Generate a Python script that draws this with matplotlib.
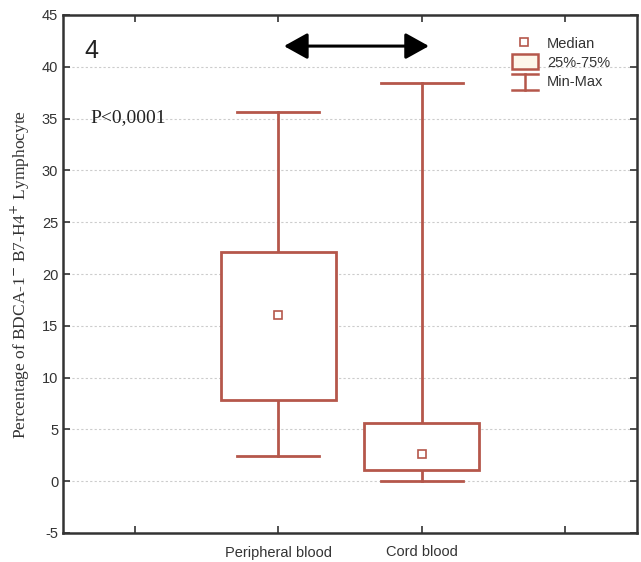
import matplotlib
matplotlib.use("Agg")
import matplotlib.pyplot as plt
from matplotlib.patches import Rectangle, FancyArrowPatch
from matplotlib.lines import Line2D

plt.rcParams["axes.unicode_minus"] = False

# ---- data ----
categories = ["Peripheral blood", "Cord blood"]
positions = [2, 3]
q1 = [7.8, 1.1]
q3 = [22.1, 5.6]
medians = [16.0, 2.6]
mins = [2.4, 0.0]
maxs = [35.6, 38.4]
yticks = [-5, 0, 5, 10, 15, 20, 25, 30, 35, 40, 45]

col = "#b5574b"
fig = plt.figure(figsize=(6.41, 5.62), dpi=100)
ax = fig.add_axes([63/641, 1-533/562, (637-63)/641, (533-15)/562])

box_w = 0.8
cap_w = 0.57
for p, a, b, m, lo, hi in zip(positions, q1, q3, medians, mins, maxs):
    ax.add_patch(Rectangle((p - box_w/2, a), box_w, b - a, facecolor="white",
                           edgecolor=col, lw=2.0, zorder=3))
    ax.plot([p, p], [b, hi], color=col, lw=2.0, zorder=2)
    ax.plot([p, p], [lo, a], color=col, lw=2.0, zorder=2)
    ax.plot([p - cap_w/2, p + cap_w/2], [hi, hi], color=col, lw=2.0, zorder=2)
    ax.plot([p - cap_w/2, p + cap_w/2], [lo, lo], color=col, lw=2.0, zorder=2)
    ax.plot([p], [m], marker="s", ms=6, mfc="white", mec=col, mew=1.2, zorder=4)

ax.set_xlim(0.5, 4.5)
ax.set_ylim(-5, 45)
ax.set_yticks(yticks)
ax.set_xticks([1, 2, 3, 4])
ax.set_xticklabels(["", categories[0], categories[1], ""])
ax.yaxis.grid(True, linestyle=(0, (2, 2)), color="#cccccc", lw=0.8, zorder=0)
ax.set_axisbelow(True)
ax.tick_params(direction="in", top=True, right=True, length=5, width=1.2,
               colors="#333333", labelsize=10.5)
ax.tick_params(axis="x", pad=9)
for lab in ax.get_xticklabels() + ax.get_yticklabels():
    lab.set_fontfamily("Liberation Sans")
    lab.set_color("#333333")
for s in ax.spines.values():
    s.set_color("#333333")
    s.set_linewidth(1.8)

ax.set_ylabel("Percentage of BDCA-1$^{-}$ B7-H4$^{+}$ Lymphocyte",
              fontsize=12.5, color="#333333", labelpad=7)
ax.yaxis.label.set_fontfamily("Liberation Serif")

# arrow
arr = FancyArrowPatch((2.04, 42.0), (3.05, 42.0), arrowstyle="<|-|>,head_length=0.9,head_width=0.5",
                      mutation_scale=16, color="black", lw=2.2, zorder=5,
                      shrinkA=0, shrinkB=0)
ax.add_patch(arr)

ax.text(0.65, 41.5, "4", fontsize=18, fontfamily="Liberation Sans",
        color="#222222", va="center", ha="left")
ax.text(0.69, 35.1, "P<0,0001", fontsize=14, fontfamily="Liberation Serif",
        color="#222222", va="center", ha="left")

# manual legend (axes fraction coords)
def fx(px):
    return (px - 63) / (637 - 63)
def fy(py):
    return (533 - py) / (533 - 15)
tr = ax.transAxes
ax.add_line(Line2D([fx(524)], [fy(42)], marker="s", ms=6, mfc="white", mec=col,
                   mew=1.2, transform=tr))
ax.add_patch(Rectangle((fx(512), fy(69)), fx(538) - fx(512), fy(54) - fy(69),
                       facecolor="#fdf6ea", edgecolor=col, lw=1.8, transform=tr))
ax.add_line(Line2D([fx(512), fx(538)], [fy(74), fy(74)], color=col, lw=1.8, transform=tr))
ax.add_line(Line2D([fx(525), fx(525)], [fy(74), fy(90)], color=col, lw=1.8, transform=tr))
ax.add_line(Line2D([fx(512), fx(538)], [fy(90), fy(90)], color=col, lw=1.8, transform=tr))
for txt, py in [("Median", 44), ("25%-75%", 63), ("Min-Max", 82)]:
    ax.text(fx(547), fy(py), txt, transform=tr, fontsize=10.5,
            fontfamily="Liberation Sans", color="#333333", va="center", ha="left")

fig.savefig("out.png", dpi=100)
